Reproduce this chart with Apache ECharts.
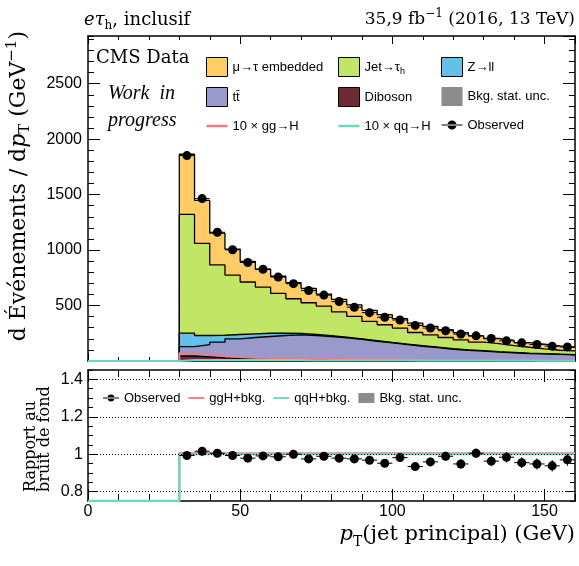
<!DOCTYPE html>
<html>
<head>
<meta charset="utf-8">
<script src="https://cdn.jsdelivr.net/npm/echarts@6/dist/echarts.min.js"></script>
<style>
  html, body { margin: 0; padding: 0; background: #fff; }
  #chart { width: 579px; height: 566px; }
</style>
</head>
<body>
<div id="chart"></div>
<script>
// bins : bord bas de chaque bin (GeV), largeur 5 GeV
const binLow = [30, 35, 40, 45, 50, 55, 60, 65, 70, 75, 80, 85, 90, 95, 100, 105, 110, 115, 120, 125, 130, 135, 140, 145, 150, 155];
const binWidth = 5;
const xRange = [0, 160];
const xMajorTicks = 50;
const xMinorTicks = 10;

// fonds (du bas vers le haut : diboson, ttbar, Z->ll, jet->tau, embedded)
const embedded = [543, 387, 286, 234, 185, 161, 155, 145, 130, 109, 112, 103, 100, 91, 85, 85, 76, 70, 64, 57, 46, 46, 42, 43, 39, 33];
const jetFakes = [1069, 831, 634, 536, 467, 416, 357, 313, 285, 265, 227, 203, 173, 159, 144, 119, 110, 101, 90, 77, 73, 61, 53, 42, 35, 34];
const zll = [122, 82, 62, 39, 33, 29, 22, 12, 10, 8, 7, 4, 6, 5, 5, 5, 5, 5, 4, 4, 4, 4, 4, 3, 3, 2];
const ttbar = [85, 110, 142, 178, 194, 205, 216, 223, 218, 210, 199, 187, 170, 155, 141, 127, 115, 101, 92, 84, 76, 70, 63, 61, 56, 52];
const diboson = [45, 38, 28, 22, 18, 16, 14, 13, 12, 11, 10, 9, 8, 8, 7, 6, 6, 5, 5, 5, 4, 4, 4, 3, 3, 3];

// signaux x10
const ggH10 = [70, 58, 45, 35, 30, 28, 26, 24, 22, 20, 18, 16, 15, 13, 12, 11, 10, 9, 8, 8, 7, 6, 6, 5, 5, 4];
const qqH10 = [9, 9, 9, 9, 8, 8, 8, 8, 7, 7, 7, 6, 6, 6, 6, 5, 5, 5, 5, 4, 4, 4, 4, 3, 3, 3];

// données
const observed = [1852, 1464, 1161, 1003, 888, 827, 757, 697, 636, 594, 536, 485, 436, 394, 370, 321, 297, 273, 243, 227, 203, 182, 164, 149, 134, 127];
const observedErr = [19, 17, 15, 14, 13, 13, 12, 12, 11, 11, 10, 10, 9, 9, 9, 8, 8, 7, 7, 7, 6, 6, 6, 5, 5, 5];

// panneau du rapport
const ratioObs = [0.993, 1.016, 1.005, 0.993, 0.979, 0.991, 0.986, 1.000, 0.975, 0.989, 0.979, 0.975, 0.968, 0.952, 0.982, 0.934, 0.959, 0.989, 0.948, 1.005, 0.963, 0.984, 0.955, 0.948, 0.938, 0.970];
const ratioObsErr = [0.010, 0.011, 0.012, 0.013, 0.013, 0.014, 0.014, 0.015, 0.016, 0.016, 0.017, 0.018, 0.019, 0.020, 0.021, 0.022, 0.023, 0.024, 0.025, 0.026, 0.027, 0.028, 0.029, 0.030, 0.031, 0.032];
const ratioGGH = [1.006, 1.006, 1.005, 1.005, 1.005, 1.005, 1.005, 1.005, 1.005, 1.005, 1.005, 1.005, 1.005, 1.005, 1.005, 1.005, 1.005, 1.005, 1.005, 1.005, 1.005, 1.005, 1.005, 1.005, 1.005, 1.005];
const ratioQQH = [1.001, 1.001, 1.001, 1.001, 1.001, 1.001, 1.001, 1.001, 1.001, 1.001, 1.001, 1.001, 1.001, 1.001, 1.001, 1.001, 1.001, 1.001, 1.001, 1.001, 1.001, 1.001, 1.001, 1.001, 1.001, 1.001];
const ratioUnc = [0.004, 0.004, 0.004, 0.004, 0.004, 0.004, 0.004, 0.004, 0.004, 0.004, 0.004, 0.004, 0.004, 0.004, 0.004, 0.004, 0.004, 0.004, 0.004, 0.004, 0.004, 0.004, 0.004, 0.004, 0.004, 0.004];

const mainYRange = [0, 2930];
const mainYTicks = 500;
const mainYMinor = 100;
const ratioRange = [0.75, 1.45];
const ratioTicks = [0.8, 1, 1.2, 1.4];
const ratioMinor = 0.05;

const serif = 'DejaVu Serif';
const sans = 'Liberation Sans';

const colors = {
  embedded: '#ffcc66', jet: '#c1e565', zll: '#63c0e8', ttbar: '#9a99cc',
  diboson: '#6d2a35', unc: '#8c8c8c', ggH: '#e88080', qqH: '#6fd5c3'
};

// empilement : cumul des fonds, du bas vers le haut
const layers = [
  { name: 'Diboson', vals: diboson, color: colors.diboson },
  { name: 'tt\u0304', vals: ttbar, color: colors.ttbar },
  { name: 'Z→ll', vals: zll, color: colors.zll },
  { name: 'Jet→τh', vals: jetFakes, color: colors.jet },
  { name: 'μ→τ embedded', vals: embedded, color: colors.embedded }
];
let running = binLow.map(() => 0);
layers.forEach(l => {
  running = running.map((v, i) => v + l.vals[i]);
  l.top = running;
});

// histogramme -> points pour une ligne en escalier ('end')
function stepData(vals, start) {
  const pts = [];
  if (start !== undefined) pts.push([xRange[0], start]);
  binLow.forEach((x, i) => pts.push([x, vals[i]]));
  pts.push([xRange[1], vals[vals.length - 1]]);
  return pts;
}

function pointData(vals, errs) {
  return binLow.map((x, i) => [x + binWidth / 2, vals[i], errs[i]]);
}

function errorBars(params, api) {
  const x = api.value(0), y = api.value(1), e = api.value(2);
  const l = api.coord([x - binWidth / 2, y]);
  const r = api.coord([x + binWidth / 2, y]);
  const lo = api.coord([x, y - e]);
  const hi = api.coord([x, y + e]);
  const st = { stroke: '#000', lineWidth: 1 };
  return {
    type: 'group',
    children: [
      { type: 'line', shape: { x1: l[0], y1: l[1], x2: r[0], y2: r[1] }, style: st },
      { type: 'line', shape: { x1: lo[0], y1: lo[1], x2: hi[0], y2: hi[1] }, style: st }
    ]
  };
}

function bandRect(params, api) {
  const p0 = api.coord([api.value(0), api.value(2)]);
  const p1 = api.coord([api.value(0) + binWidth, api.value(1)]);
  return {
    type: 'rect',
    shape: { x: p0[0], y: p0[1], width: p1[0] - p0[0], height: p1[1] - p0[1] },
    style: { fill: colors.unc }
  };
}

const labelFont = { fontFamily: sans, fontSize: 16, color: '#000' };

// axe x : un axe "majeur" (ligne du cadre + grands ticks) et un axe "mineur"
function xAxes(grid, position, showLabels, majorLen, minorLen) {
  return [
    {
      type: 'value', gridIndex: grid, position: position, min: xRange[0], max: xRange[1], interval: xMajorTicks,
      axisLine: { show: true, onZero: false, lineStyle: { color: '#000', width: 1.5 } },
      axisTick: { show: true, inside: true, length: majorLen, lineStyle: { color: '#000', width: 1 } },
      axisLabel: Object.assign({ show: showLabels, margin: 3, showMaxLabel: false }, labelFont),
      splitLine: { show: false }
    },
    {
      type: 'value', gridIndex: grid, position: position, min: xRange[0], max: xRange[1], interval: xMinorTicks,
      axisLine: { show: false, onZero: false },
      axisTick: { show: true, inside: true, length: minorLen, lineStyle: { color: '#000', width: 1 } },
      axisLabel: { show: false }, splitLine: { show: false }
    }
  ];
}

function mainYAxes(position, showLabels) {
  return [
    {
      type: 'value', gridIndex: 0, position: position, min: mainYRange[0], max: mainYRange[1], interval: mainYTicks,
      axisLine: { show: true, onZero: false, lineStyle: { color: '#000', width: 1.5 } },
      axisTick: { show: true, inside: true, length: 12, lineStyle: { color: '#000', width: 1 } },
      axisLabel: Object.assign({ show: showLabels, margin: 6, showMinLabel: false, showMaxLabel: false, formatter: v => String(v) }, labelFont),
      splitLine: { show: false }
    },
    {
      type: 'value', gridIndex: 0, position: position, min: mainYRange[0], max: mainYRange[1], interval: mainYMinor,
      axisLine: { show: false, onZero: false },
      axisTick: { show: true, inside: true, length: 6, lineStyle: { color: '#000', width: 1 } },
      axisLabel: { show: false }, splitLine: { show: false }
    }
  ];
}

function ratioYAxes(position, showLabels) {
  return [
    {
      type: 'value', gridIndex: 1, position: position, min: ratioRange[0], max: ratioRange[1],
      axisLine: { show: true, onZero: false, lineStyle: { color: '#000', width: 1.5 } },
      axisTick: { show: true, inside: true, length: 10, customValues: ratioTicks, lineStyle: { color: '#000', width: 1 } },
      axisLabel: Object.assign({ show: showLabels, margin: 5, customValues: ratioTicks }, labelFont),
      splitLine: { show: false }
    },
    {
      type: 'value', gridIndex: 1, position: position, min: ratioRange[0], max: ratioRange[1], interval: ratioMinor,
      axisLine: { show: false, onZero: false },
      axisTick: { show: true, inside: true, length: 5, lineStyle: { color: '#000', width: 1 } },
      axisLabel: { show: false }, splitLine: { show: false }
    }
  ];
}

// chaque couche est remplie depuis zéro jusqu'à son cumul ; les couches du haut sont dessinées d'abord
const stackSeries = layers.slice().reverse().map(l => ({
  name: l.name, type: 'line', step: 'end', xAxisIndex: 0, yAxisIndex: 0,
  data: stepData(l.top, 0), symbol: 'none', z: 2,
  itemStyle: { color: l.color },
  lineStyle: { color: '#000', width: 1.3 },
  areaStyle: { color: l.color, opacity: 1 }
}));

function boxItem(name, color) {
  return { name: name, icon: 'rect', itemStyle: { color: color, borderColor: '#000', borderWidth: 1 } };
}
function lineItem(name, color) {
  return { name: name, icon: 'path://M0,0h21v2.5h-21z', itemStyle: { color: color, borderWidth: 0 } };
}

const obsIcon = 'path://M0,4h21v1h-21z M6,4.5a4.5,4.5 0 1,0 9,0a4.5,4.5 0 1,0 -9,0z';
const obsItem = { name: 'Observed', icon: obsIcon, itemStyle: { color: '#000', borderWidth: 0, opacity: 1 } };
const uncItem = { name: 'Bkg. stat. unc.', icon: 'rect', itemStyle: { color: colors.unc, borderWidth: 0 } };

const legendBase = {
  orient: 'vertical', padding: 0, itemGap: 10, itemWidth: 21, itemHeight: 19, selectedMode: false,
  symbolKeepAspect: true,
  textStyle: {
    fontFamily: sans, fontSize: 13, color: '#000', lineHeight: 18,
    rich: { sub: { fontFamily: sans, fontSize: 9, lineHeight: 10, verticalAlign: 'bottom' } }
  },
  formatter: name => name === 'Jet→τh' ? 'Jet→τ{sub|h}' : name
};

const chart = echarts.init(document.getElementById('chart'));

chart.setOption({
  animation: false,
  backgroundColor: '#fff',
  grid: [
    { left: 88, top: 36, width: 487, height: 325 },
    { left: 88, top: 370, width: 487, height: 131 }
  ],
  xAxis: [].concat(
    xAxes(0, 'bottom', false, 8, 4),
    xAxes(0, 'top', false, 8, 4),
    xAxes(1, 'bottom', true, 12, 7),
    xAxes(1, 'top', false, 12, 7)
  ),
  yAxis: [].concat(
    mainYAxes('left', true),
    mainYAxes('right', false),
    ratioYAxes('left', true),
    ratioYAxes('right', false)
  ),
  legend: [
    Object.assign({}, legendBase, {
      left: 206, top: 57,
      data: [boxItem('μ→τ embedded', colors.embedded), boxItem('tt\u0304', colors.ttbar), lineItem('10 × gg→H', colors.ggH)]
    }),
    Object.assign({}, legendBase, {
      left: 338, top: 57,
      data: [boxItem('Jet→τh', colors.jet), boxItem('Diboson', colors.diboson), lineItem('10 × qq→H', colors.qqH)]
    }),
    Object.assign({}, legendBase, {
      left: 441, top: 57,
      data: [boxItem('Z→ll', colors.zll), uncItem, obsItem]
    }),
    Object.assign({}, legendBase, {
      orient: 'horizontal', left: 103, top: 389, itemWidth: 16, itemHeight: 10, itemGap: 8,
      data: [obsItem, lineItem('ggH+bkg.', colors.ggH), lineItem('qqH+bkg.', colors.qqH), uncItem]
    })
  ],
  series: stackSeries.concat([
    {
      name: '10 × gg→H', type: 'line', step: 'end', xAxisIndex: 0, yAxisIndex: 0, z: 3,
      data: stepData(ggH10, 0), symbol: 'none',
      itemStyle: { color: colors.ggH }, lineStyle: { color: colors.ggH, width: 2 }
    },
    {
      name: '10 × qq→H', type: 'line', step: 'end', xAxisIndex: 0, yAxisIndex: 0, z: 3,
      data: stepData(qqH10, 0), symbol: 'none',
      itemStyle: { color: colors.qqH }, lineStyle: { color: colors.qqH, width: 2 }
    },
    {
      name: 'Observed', type: 'custom', xAxisIndex: 0, yAxisIndex: 0, z: 4,
      data: pointData(observed, observedErr), encode: { x: 0, y: 1 }, renderItem: errorBars
    },
    {
      name: 'Observed', type: 'scatter', xAxisIndex: 0, yAxisIndex: 0, z: 5,
      data: pointData(observed, observedErr), symbolSize: 9, itemStyle: { color: '#000', opacity: 1 }
    },
    // panneau du rapport
    {
      name: 'Bkg. stat. unc.', type: 'custom', xAxisIndex: 4, yAxisIndex: 4, z: 2,
      data: binLow.map((x, i) => [x, 1 - ratioUnc[i], 1 + ratioUnc[i]]),
      encode: { x: 0, y: [1, 2] }, renderItem: bandRect,
      itemStyle: { color: colors.unc },
      markLine: {
        silent: true, symbol: 'none', label: { show: false },
        lineStyle: { color: '#000', type: [1, 2], width: 1 },
        data: ratioTicks.map(v => ({ yAxis: v }))
      }
    },
    {
      name: 'ggH+bkg.', type: 'line', step: 'end', xAxisIndex: 4, yAxisIndex: 4, z: 3,
      data: stepData(ratioGGH, ratioRange[0]), symbol: 'none',
      itemStyle: { color: colors.ggH }, lineStyle: { color: colors.ggH, width: 2 }
    },
    {
      name: 'qqH+bkg.', type: 'line', step: 'end', xAxisIndex: 4, yAxisIndex: 4, z: 3,
      data: stepData(ratioQQH, ratioRange[0]), symbol: 'none',
      itemStyle: { color: colors.qqH }, lineStyle: { color: colors.qqH, width: 2.5 }
    },
    {
      name: 'Observed', type: 'custom', xAxisIndex: 4, yAxisIndex: 4, z: 4,
      data: pointData(ratioObs, ratioObsErr), encode: { x: 0, y: 1 }, renderItem: errorBars
    },
    {
      name: 'Observed', type: 'scatter', xAxisIndex: 4, yAxisIndex: 4, z: 5,
      data: pointData(ratioObs, ratioObsErr), symbolSize: 9, itemStyle: { color: '#000', opacity: 1 }
    }
  ]),
  graphic: [
    {
      type: 'text', x: 84, y: 20,
      style: {
        text: '{it|eτ}{sub|h}, inclusif', fontFamily: serif, fontSize: 18, fill: '#000',
        textAlign: 'left', verticalAlign: 'middle', textVerticalAlign: 'middle',
        rich: {
          it: { fontFamily: serif, fontSize: 18, fontStyle: 'italic', lineHeight: 24 },
          sub: { fontFamily: serif, fontSize: 12, lineHeight: 12, verticalAlign: 'bottom' }
        }
      }
    },
    {
      type: 'text', x: 575, y: 20,
      style: {
        text: '35,9 fb{sup|−1} (2016, 13 TeV)', fontFamily: serif, fontSize: 17, fill: '#000',
        textAlign: 'right', verticalAlign: 'middle', textVerticalAlign: 'middle', lineHeight: 24,
        rich: { sup: { fontFamily: serif, fontSize: 12, lineHeight: 12, verticalAlign: 'top' } }
      }
    },
    {
      type: 'text', x: 96, y: 58,
      style: { text: 'CMS Data', fontFamily: serif, fontSize: 18, fill: '#000', textAlign: 'left', verticalAlign: 'middle', textVerticalAlign: 'middle' }
    },
    {
      type: 'text', x: 108, y: 94,
      style: { text: 'Work  in', fontFamily: 'Liberation Serif', fontStyle: 'italic', fontSize: 20, fill: '#000', textAlign: 'left', verticalAlign: 'middle', textVerticalAlign: 'middle' }
    },
    {
      type: 'text', x: 108, y: 121,
      style: { text: 'progress', fontFamily: 'Liberation Serif', fontStyle: 'italic', fontSize: 20, fill: '#000', textAlign: 'left', verticalAlign: 'middle', textVerticalAlign: 'middle' }
    },
    {
      type: 'text', x: 19, y: 31, rotation: Math.PI / 2,
      style: {
        text: 'd Événements / d{it|p}{sub|T} (GeV{sup|−1})', fontFamily: serif, fontSize: 22, fill: '#000',
        textAlign: 'right', verticalAlign: 'middle', textVerticalAlign: 'middle', lineHeight: 28,
        rich: {
          it: { fontFamily: serif, fontSize: 22, fontStyle: 'italic', lineHeight: 28 },
          sub: { fontFamily: serif, fontSize: 15, lineHeight: 15, verticalAlign: 'bottom' },
          sup: { fontFamily: serif, fontSize: 15, lineHeight: 15, verticalAlign: 'top' }
        }
      }
    },
    {
      type: 'text', x: 38, y: 492, rotation: Math.PI / 2,
      style: {
        text: 'Rapport au\nbruit de fond', fontFamily: serif, fontSize: 16, lineHeight: 14, fill: '#000',
        textAlign: 'left', verticalAlign: 'middle', textVerticalAlign: 'middle'
      }
    },
    {
      type: 'text', x: 575, y: 535,
      style: {
        text: '{it|p}{sub|T}(jet principal) (GeV)', fontFamily: serif, fontSize: 21, fill: '#000',
        textAlign: 'right', verticalAlign: 'middle', textVerticalAlign: 'middle', lineHeight: 28,
        rich: {
          it: { fontFamily: serif, fontSize: 21, fontStyle: 'italic', lineHeight: 28 },
          sub: { fontFamily: serif, fontSize: 14, lineHeight: 14, verticalAlign: 'bottom' }
        }
      }
    }
  ]
});
</script>
</body>
</html>
